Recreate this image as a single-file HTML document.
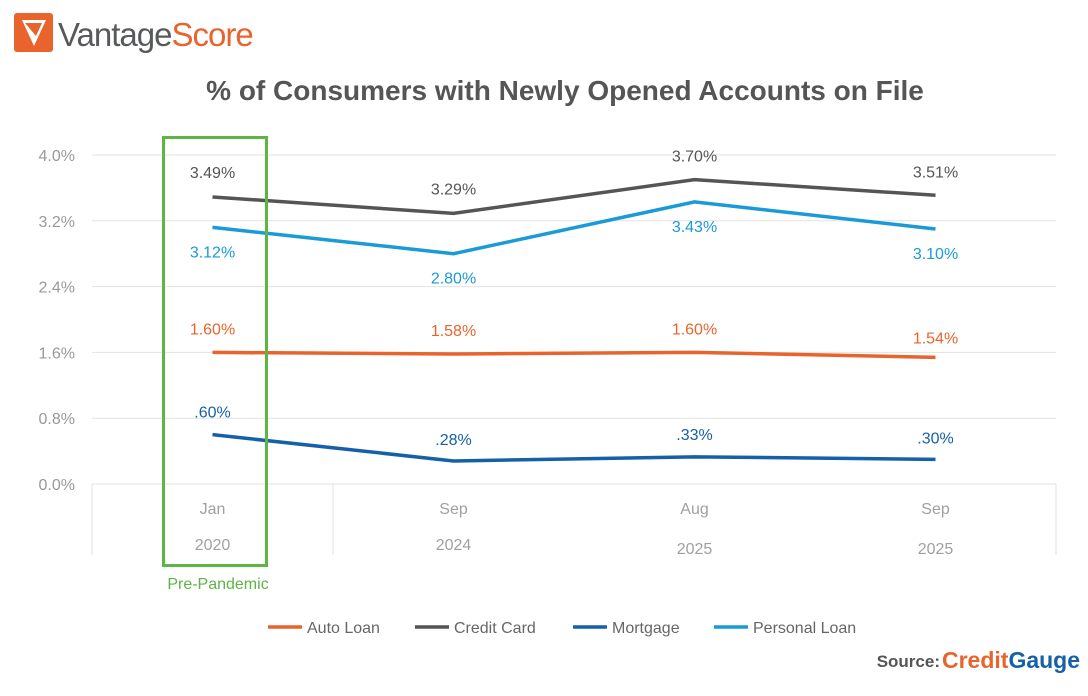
<!DOCTYPE html>
<html><head><meta charset="utf-8"><style>
body{margin:0;background:#fff;width:1088px;height:691px;overflow:hidden;font-family:"Liberation Sans",sans-serif}
</style></head><body>
<svg id="c" width="1088" height="691" xmlns="http://www.w3.org/2000/svg">
<g>
<rect x="14" y="13" width="39" height="39" rx="3" fill="#e8642c"/>
<path d="M22 20 L46 20 L34 46 Z" fill="#fff"/>
<path d="M25 23 L42 23 L36 36 Z" fill="#e8642c"/>
<text x="58" y="46" font-size="33" fill="#58595b" letter-spacing="-1">Vantage<tspan fill="#e8642c">Score</tspan></text>
</g>
<text x="565" y="100" text-anchor="middle" font-size="28" font-weight="bold" fill="#555">% of Consumers with Newly Opened Accounts on File</text>
<g id="grid"></g>
<g id="series"></g>
<rect x="163.5" y="137.5" width="103" height="428" fill="none" stroke="#5db544" stroke-width="3"/>
<text x="218" y="589" text-anchor="middle" font-size="16" fill="#5db544">Pre-Pandemic</text>
<g id="legend"></g>
<text x="940" y="667" text-anchor="end" font-size="17" font-weight="bold" fill="#555">Source:</text>
<text x="942" y="668" font-size="23" font-weight="bold" fill="#e8642c">Credit<tspan fill="#1660a8">Gauge</tspan></text>
</svg>
<script>
const categories=[["Jan","2020"],["Sep","2024"],["Aug","2025"],["Sep","2025"]];
const seriesNames=["Auto Loan","Credit Card","Mortgage","Personal Loan"];
const autoLoan=[1.60,1.58,1.60,1.54];
const creditCard=[3.49,3.29,3.70,3.51];
const mortgage=[0.60,0.28,0.33,0.30];
const personalLoan=[3.12,2.80,3.43,3.10];
const autoLabels=["1.60%","1.58%","1.60%","1.54%"];
const ccLabels=["3.49%","3.29%","3.70%","3.51%"];
const mortLabels=[".60%",".28%",".33%",".30%"];
const plLabels=["3.12%","2.80%","3.43%","3.10%"];
const yTicks=[0,0.8,1.6,2.4,3.2,4.0];
const yTickLabels=["0.0%","0.8%","1.6%","2.4%","3.2%","4.0%"];
const NS="http://www.w3.org/2000/svg";
const L=92,R=1056,Y0=484,Y4=155;
const y=v=>Y0-(v/4)*(Y0-Y4);
const x=i=>L+(R-L)/categories.length*(i+0.5);
function mk(t,a,p){const e=document.createElementNS(NS,t);for(const k in a)e.setAttribute(k,a[k]);p.appendChild(e);return e;}
const grid=document.getElementById('grid');
yTicks.forEach((v,i)=>{
 const l=mk('line',{x1:L,x2:R,y1:y(v),y2:y(v),stroke:'#e2e2e2','stroke-width':1},grid);
 
 
 const t=mk('text',{x:75,y:y(v)+6,'text-anchor':'end','font-size':16,fill:'#999'},grid);
 t.textContent=yTickLabels[i];
 
 
});
[L,L+(R-L)/4,R].forEach(px=>{
 const l=mk('line',{x1:px,x2:px,y1:Y0,y2:555,stroke:'#e2e2e2'},grid);
 
 
});
categories.forEach((c,i)=>{
 c.forEach((s,j)=>{
  const t=mk('text',{x:x(i),y:514+j*(i>=2?38:36)+(i>=2&&j==1?2:0),'text-anchor':'middle','font-size':16,fill:'#a0a0a0'},grid);
  t.textContent=s;
  
  
 });
});
const sg=document.getElementById('series');
const defs=[
 {d:creditCard,lab:ccLabels,col:'#555',n:'credit-card',off:[-19,-19,-18,-18]},
 {d:personalLoan,lab:plLabels,col:'#1a9ad6',n:'personal-loan',off:[30,30,30,30]},
 {d:autoLoan,lab:autoLabels,col:'#e8642c',n:'auto-loan',off:[-18,-18,-18,-14]},
 {d:mortgage,lab:mortLabels,col:'#1660a8',n:'mortgage',off:[-17,-16,-17,-16]}
];
defs.forEach(s=>{
 const p=mk('polyline',{points:s.d.map((v,i)=>x(i)+','+y(v)).join(' '),fill:'none',stroke:s.col,'stroke-width':3.5},sg);
 
 
 s.d.forEach((v,i)=>{
  const t=mk('text',{x:x(i),y:y(v)+s.off[i],'text-anchor':'middle','font-size':16,fill:s.col},sg);
  t.textContent=s.lab[i];
  
  
 });
});
const lg=document.getElementById('legend');
const leg=[['Auto Loan','#e8642c',268],['Credit Card','#555',415],['Mortgage','#1660a8',573],['Personal Loan','#1a9ad6',714]];
leg.forEach(e=>{
 const g=mk('g',{},lg);
 
 
 mk('line',{x1:e[2],x2:e[2]+34,y1:627,y2:627,stroke:e[1],'stroke-width':3.5},g);
 const t=mk('text',{x:e[2]+39,y:633,'font-size':16,fill:'#666'},g);
 t.textContent=e[0];
});
</script>
</body></html>
